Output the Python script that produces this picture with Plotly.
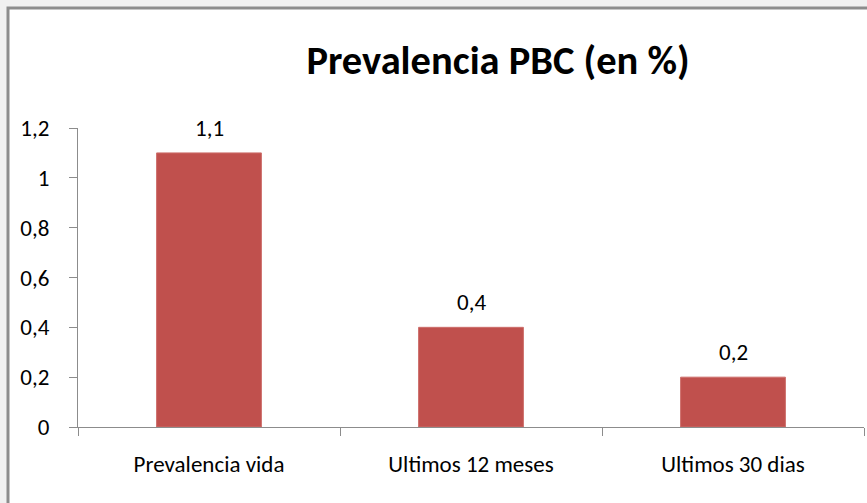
import plotly.graph_objects as go

categories = ["Prevalencia vida", "Ultimos 12 meses", "Ultimos 30 dias"]
values = [1.1, 0.4, 0.2]
y_ticks = [0, 0.2, 0.4, 0.6, 0.8, 1.0, 1.2]
y_ticklabels = ["0", "0,2", "0,4", "0,6", "0,8", "1", "1,2"]
title_text = "Prevalencia PBC (en %)"

FONT = "Carlito, 'Liberation Sans Narrow', 'Arial Narrow', 'Roboto Condensed', 'Open Sans', sans-serif"
W, H = 867, 503
L, R, T, B = 78, 3, 128, 76
pw, ph = W - L - R, H - T - B

fig = go.Figure()
fig.add_trace(go.Bar(
    x=categories, y=values,
    marker=dict(color="#C0504D", line=dict(color="#CD6E6B", width=1)),
    width=0.4,
    hoverinfo="skip",
))

for c, v in zip(categories, values):
    fig.add_annotation(x=c, y=v, text=f"{v}".replace(".", ","), showarrow=False,
                       yshift=25, font=dict(family=FONT, size=23, color="black"))

# outer frame
fig.add_shape(type="rect", xref="paper", yref="paper",
              x0=(8 - L) / pw, x1=(W + 20 - L) / pw,
              y0=-(H + 20 - (T + ph)) / ph, y1=(T + ph - 8) / ph,
              line=dict(color="#8C8C8C", width=3), fillcolor="white", layer="below")

fig.update_layout(
    width=W, height=H,
    margin=dict(l=L, r=R, t=T, b=B, pad=0),
    paper_bgcolor="#F0F0F0",
    plot_bgcolor="rgba(0,0,0,0)",
    showlegend=False,
    separators=",.",
    font=dict(family=FONT, color="black"),
    title=dict(text="<b>" + title_text + "</b>", x=498 / W, xanchor="center",
               y=1 - 60 / H, yanchor="middle", font=dict(family=FONT, size=40.5, color="black")),
)
fig.update_xaxes(
    showline=True, linecolor="#8C8C8C", linewidth=1,
    ticks="outside", tickson="boundaries", ticklen=8, tickcolor="#8C8C8C",
    tickfont=dict(family=FONT, size=23, color="black"),
    ticklabelstandoff=16,
    showgrid=False, zeroline=False,
)
fig.update_yaxes(
    range=[0, 1.2], tickvals=y_ticks, ticktext=y_ticklabels,
    showline=True, linecolor="#8C8C8C", linewidth=1,
    ticks="outside", ticklen=8, tickcolor="#8C8C8C",
    tickfont=dict(family=FONT, size=23, color="black"),
    ticklabelstandoff=15,
    showgrid=False, zeroline=False,
)

fig.write_html("out.html", config={"displayModeBar": False},
               post_script="document.body.style.margin='0px';document.body.style.overflow='hidden';")
